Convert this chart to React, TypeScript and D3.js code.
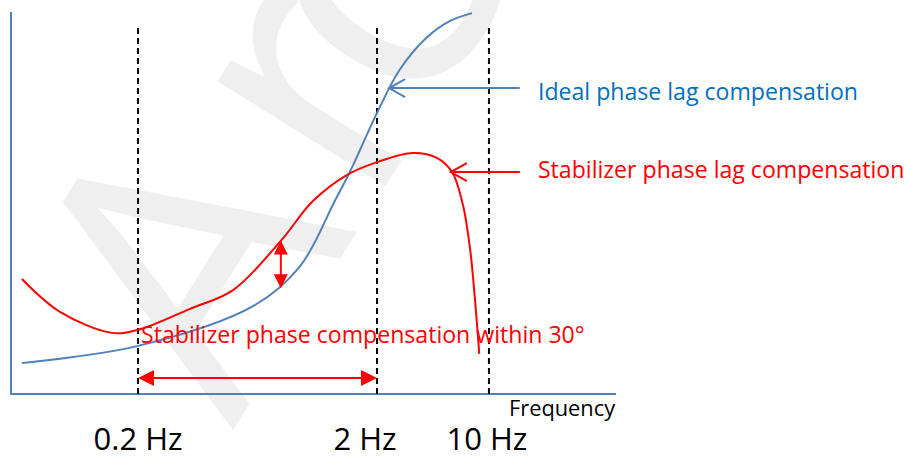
import { useEffect, useRef } from "react";
import * as d3 from "d3";

// diagram units: x = frequency position (0..100), y = phase compensation (0..100)
const idealCurve: [number, number][] = [
  [1.8, 8.1], [21.0, 12.6], [40.0, 23.0], [47.8, 33.5], [53.6, 50.8],
  [56.0, 58.1], [60.5, 73.6], [64.3, 85.0], [68.5, 93.0], [72.5, 97.6], [76.2, 99.7]
];

const stabilizerCurve: [number, number][] = [
  [1.8, 30.1], [8.1, 21.5], [16.7, 16.0], [21.0, 16.8], [29.6, 22.3], [36.7, 27.2],
  [44.6, 40.1], [49.9, 50.5], [55.5, 57.3], [60.5, 60.7], [66.4, 63.1],
  [70.4, 61.8], [72.9, 58.1], [74.7, 49.5], [75.9, 37.7], [76.7, 24.6], [77.4, 10.5]
];

const freqMarks = [21.0, 60.5, 79.0];
const freqLabels = ["0.2 Hz", "2 Hz", "10 Hz"];

const gapAt = 44.6;
const gapRange = [27.7, 40.2];
const bandRange = [21.0, 60.5];
const bandLevel = 4.2;

const idealPointer: [number, number] = [62.5, 80.1];
const stabPointer: [number, number] = [72.7, 58.1];

const idealLabel = "Ideal phase lag compensation";
const stabLabel = "Stabilizer phase lag compensation";
const bandLabel = "Stabilizer phase compensation within 30°";
const axisLabel = "Frequency";

const BLUE = "#4f81bd";
const TEXT_BLUE = "#0070c0";
const RED = "#ff0000";
const FONT = "'Open Sans', sans-serif";

const App = () => {
  const ref = useRef<SVGSVGElement>(null);

  useEffect(() => {
    document.body.style.margin = "0";
    const svg = d3.select(ref.current);
    svg.selectAll("*").remove();

    const x = d3.scaleLinear().domain([0, 100]).range([11, 616]);
    const y = d3.scaleLinear().domain([0, 100]).range([394, 12]);

    // watermark
    svg.append("text")
      .attr("transform", "translate(233,430) rotate(-58)")
      .attr("font-family", FONT)
      .attr("font-size", 370)
      .attr("dx", "0 22 -50")
      .attr("fill", "#efefef")
      .text("Arc");

    // axes
    svg.append("path")
      .attr("d", `M${x(0)},${y(100)}V${y(0)}H${x(100)}`)
      .attr("fill", "none")
      .attr("stroke", BLUE)
      .attr("stroke-width", 2);

    // dashed frequency markers
    svg.selectAll(".mark")
      .data(freqMarks)
      .enter()
      .append("line")
      .attr("x1", d => x(d)).attr("x2", d => x(d))
      .attr("y1", y(95.8)).attr("y2", y(0))
      .attr("stroke", "#000")
      .attr("stroke-width", 2)
      .attr("stroke-dasharray", "6,4");

    const labelDx = [0, -12, -2];
    svg.selectAll(".flabel")
      .data(freqLabels)
      .enter()
      .append("text")
      .attr("x", (d, i) => x(freqMarks[i]) + labelDx[i])
      .attr("y", 450)
      .attr("text-anchor", "middle")
      .attr("font-family", FONT)
      .attr("font-size", 31)
      .attr("fill", "#000")
      .text(d => d);

    svg.append("text")
      .attr("x", 509).attr("y", 416)
      .attr("font-family", FONT)
      .attr("font-size", 21.8)
      .attr("fill", "#000")
      .text(axisLabel);

    const line = d3.line<[number, number]>()
      .x(d => x(d[0]))
      .y(d => y(d[1]))
      .curve(d3.curveCatmullRom.alpha(0.5));

    svg.append("path")
      .attr("d", line(idealCurve))
      .attr("fill", "none")
      .attr("stroke", BLUE)
      .attr("stroke-width", 2);

    svg.append("path")
      .attr("d", line(stabilizerCurve))
      .attr("fill", "none")
      .attr("stroke", RED)
      .attr("stroke-width", 2);

    // filled arrow head, tip at (tx,ty) pointing along (dx,dy)
    const head = (tx: number, ty: number, dx: number, dy: number, len: number, half: number) => {
      const bx = tx - dx * len, by = ty - dy * len;
      return `M${tx},${ty}L${bx - dy * half},${by + dx * half}L${bx + dy * half},${by - dx * half}Z`;
    };
    const chevron = (tx: number, ty: number, len: number, half: number) =>
      `M${tx + len},${ty - half}L${tx},${ty}L${tx + len},${ty + half}`;

    // vertical gap arrow
    const gx = x(gapAt), gTop = y(gapRange[1]), gBot = y(gapRange[0]);
    svg.append("line")
      .attr("x1", gx).attr("x2", gx).attr("y1", gTop + 8).attr("y2", gBot - 8)
      .attr("stroke", RED).attr("stroke-width", 2);
    svg.append("path").attr("d", head(gx, gTop, 0, -1, 14, 7)).attr("fill", RED);
    svg.append("path").attr("d", head(gx, gBot, 0, 1, 14, 7)).attr("fill", RED);

    // horizontal band arrow
    const bL = x(bandRange[0]), bR = x(bandRange[1]), by = y(bandLevel);
    svg.append("line")
      .attr("x1", bL + 10).attr("x2", bR - 10).attr("y1", by).attr("y2", by)
      .attr("stroke", RED).attr("stroke-width", 2);
    svg.append("path").attr("d", head(bL, by, -1, 0, 16, 8)).attr("fill", RED);
    svg.append("path").attr("d", head(bR, by, 1, 0, 16, 8)).attr("fill", RED);

    // pointer arrows to the labels
    const pointerEnd = x(84.1);
    const pointers = [
      { p: idealPointer, color: BLUE },
      { p: stabPointer, color: RED }
    ];
    pointers.forEach(({ p, color }) => {
      const px = x(p[0]), py = y(p[1]);
      svg.append("line")
        .attr("x1", px).attr("x2", pointerEnd).attr("y1", py).attr("y2", py)
        .attr("stroke", color).attr("stroke-width", 2);
      svg.append("path")
        .attr("d", chevron(px, py, 16, 9))
        .attr("fill", "none").attr("stroke", color).attr("stroke-width", 2);
    });

    // labels
    const labels = [
      { t: idealLabel, x: 87.1, y: 77.0, c: TEXT_BLUE },
      { t: stabLabel, x: 87.1, y: 56.5, c: RED },
      { t: bandLabel, x: 21.5, y: 13.4, c: RED }
    ];
    svg.selectAll(".label")
      .data(labels)
      .enter()
      .append("text")
      .attr("x", d => x(d.x))
      .attr("y", d => y(d.y))
      .attr("font-family", FONT)
      .attr("font-size", 23.1)
      .attr("fill", d => d.c)
      .text(d => d.t);
  }, []);

  return (
    <svg
      ref={ref}
      width={904}
      height={458}
      style={{ display: "block", background: "#fff" }}
    />
  );
};

export default App;
